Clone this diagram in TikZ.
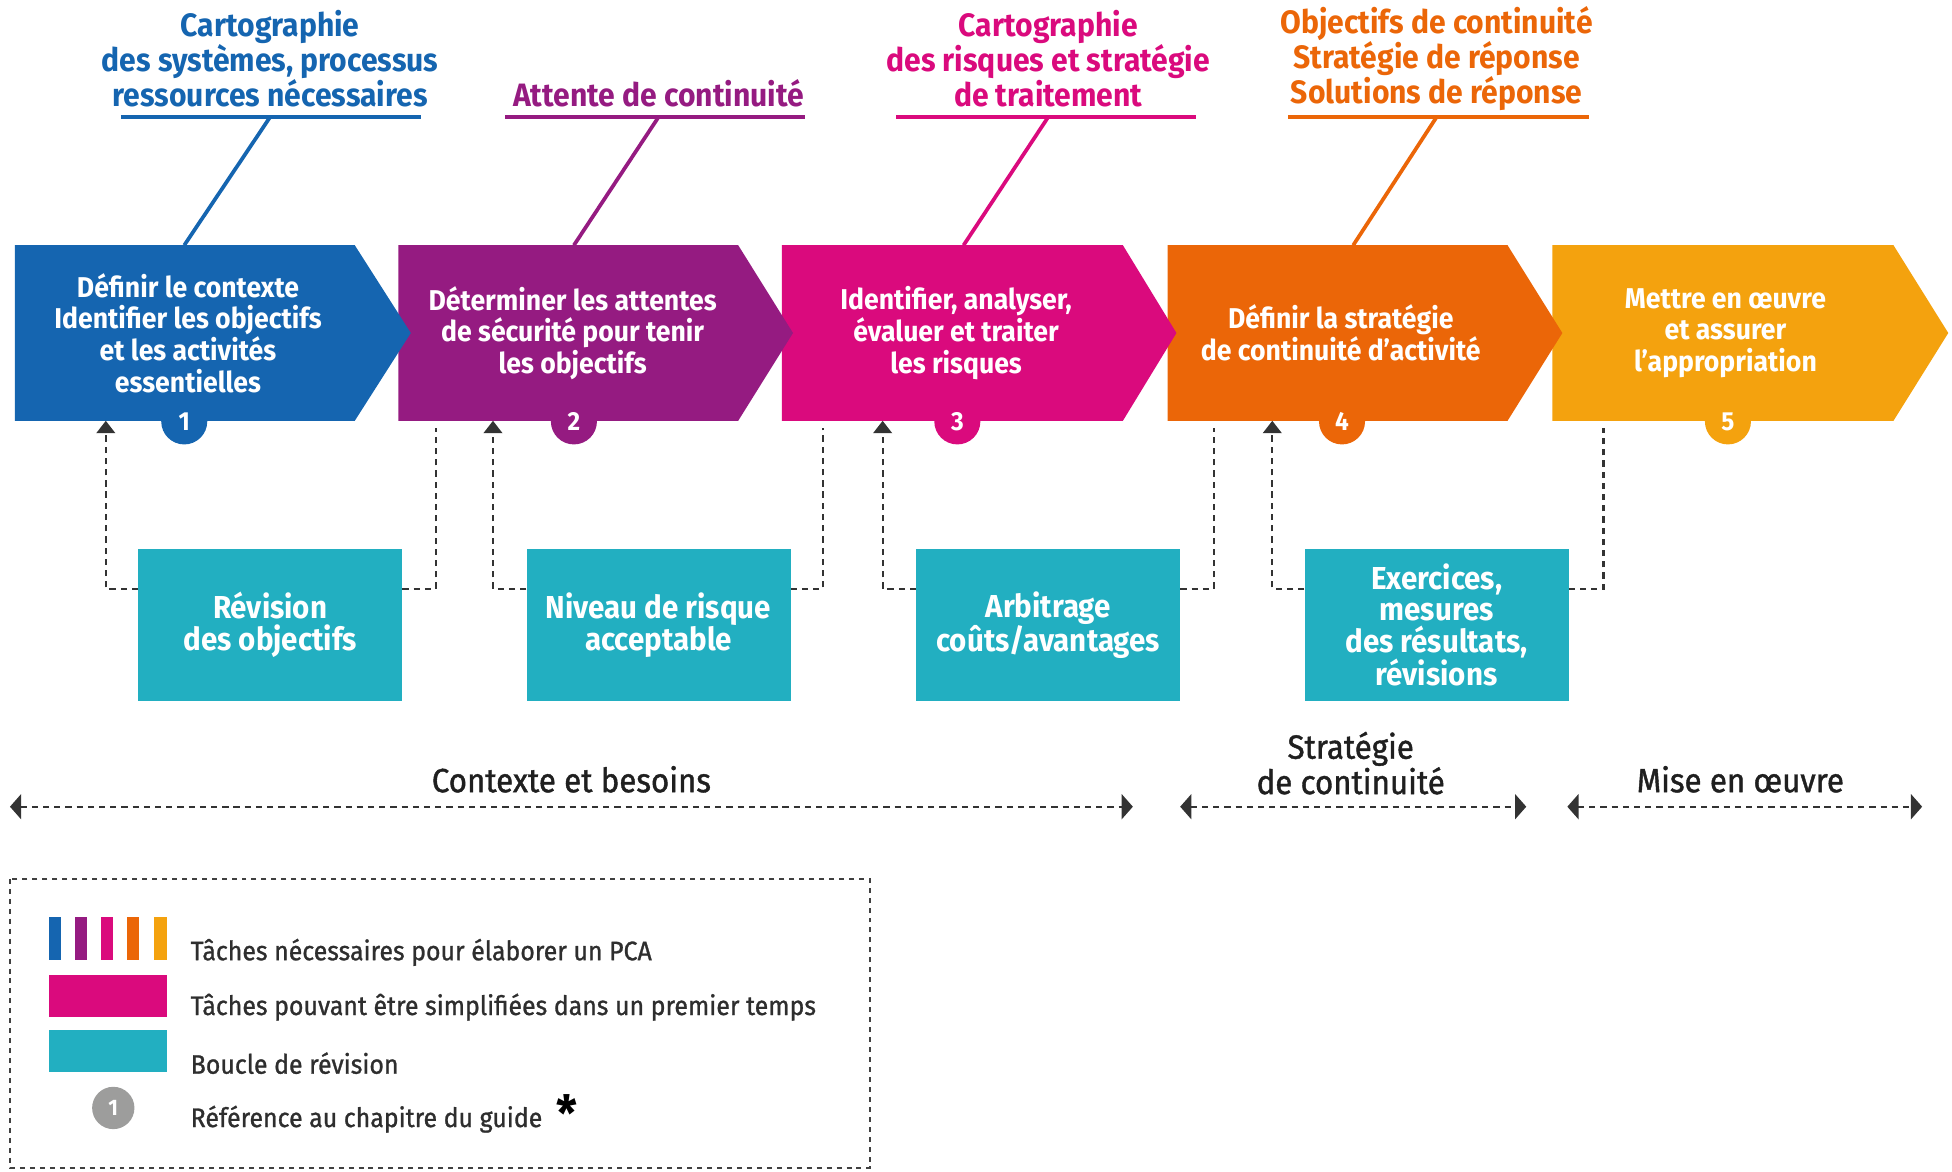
\documentclass[tikz,border=0pt]{standalone}
\usepackage{fontspec}
\setmainfont[FakeStretch=0.93]{Fira Sans}
\usetikzlibrary{arrows.meta}
\definecolor{cA}{HTML}{1565B0}
\definecolor{cB}{HTML}{951B81}
\definecolor{cC}{HTML}{DA0A7D}
\definecolor{cD}{HTML}{EB6608}
\definecolor{cE}{HTML}{F4A20E}
\definecolor{cT}{HTML}{22AFC1}
\definecolor{cG}{HTML}{9D9D9C}
\begin{document}
\begin{tikzpicture}[x=1pt,y=-1pt,
  toplbl/.style={font=\fontsize{26}{28}\selectfont\bfseries, align=center, inner sep=0},
  steptxt/.style={text=white, font=\fontsize{23}{25.5}\selectfont\bfseries, align=center, inner sep=0},
  revbox/.style={fill=cT, text=white, minimum width=212pt, minimum height=122pt, inner sep=0, align=center, font=\fontsize{25.5}{25.5}\selectfont\bfseries},
  badge/.style={circle, minimum size=37pt, inner sep=0, text=white, font=\fontsize{21}{21}\selectfont\bfseries},
  loopln/.style={draw=black!80, line width=1.8pt, dash pattern=on 5pt off 4pt},
  looparrow/.style={loopln, -{Triangle[length=10pt,width=15pt]}},
  span/.style={loopln, {Triangle[length=9pt,width=20pt]}-{Triangle[length=9pt,width=20pt]}},
  phase/.style={font=\fontsize{27}{27}\selectfont\addfontfeatures{FakeBold=1.2}, text=black!88, align=center, inner sep=0},
  legtxt/.style={font=\fontsize{21.5}{22}\selectfont\addfontfeatures{FakeBold=1}, text=black!82, anchor=west, inner sep=0},
  lead/.style={line width=3pt}]
\useasboundingbox (0,0) rectangle (1568,941);

% chevrons (drawn right to left so tips overlap the next one)
\fill[cE] (1247,197) -- (1521,197) -- (1565,267.5) -- (1521,338) -- (1247,338) -- cycle;
\fill[cD] (938,197) -- (1211,197) -- (1255,267.5) -- (1211,338) -- (938,338) -- cycle;
\fill[cC] (628,197) -- (902,197) -- (945,267.5) -- (902,338) -- (628,338) -- cycle;
\fill[cB] (320,197) -- (593,197) -- (637,267.5) -- (593,338) -- (320,338) -- cycle;
\fill[cA] (12,197) -- (285,197) -- (330,267.5) -- (285,338) -- (12,338) -- cycle;

\node[steptxt] (s1) at (151,267.5) {Définir le contexte\\Identifier les objectifs\\et les activités\\essentielles};
\node[steptxt] (s2) at (460,267.5) {Déterminer les attentes\\de sécurité pour tenir\\les objectifs};
\node[steptxt] (s3) at (768,267.5) {Identifier, analyser,\\évaluer et traiter\\les risques};
\node[steptxt] (s4) at (1077,267.5) {Définir la stratégie\\de continuité d’activité};
\node[steptxt] (s5) at (1386,267.5) {Mettre en œuvre\\et assurer\\l’appropriation};

\node[badge, fill=cA] (n1) at (148,338.5) {1};
\node[badge, fill=cB] (n2) at (461,338.5) {2};
\node[badge, fill=cC] (n3) at (769,338.5) {3};
\node[badge, fill=cD] (n4) at (1078,338.5) {4};
\node[badge, fill=cE] (n5) at (1388,338.5) {5};

% top labels
\node[toplbl, text=cA] (l1) at (217,47) {Cartographie\\des systèmes, processus\\ressources nécessaires};
\node[toplbl, text=cB] (l2) at (529,75) {Attente de continuité};
\node[toplbl, text=cC] (l3) at (842,47) {Cartographie\\des risques et stratégie\\de traitement};
\node[toplbl, text=cD] (l4) at (1154,47) {Objectifs de continuité\\Stratégie de réponse\\Solutions de réponse};

\coordinate (u1a) at (97,94);  \coordinate (u1b) at (338,94);  \coordinate (u1) at (217,94);  \coordinate (t1) at (148,197);
\coordinate (u2a) at (406,94); \coordinate (u2b) at (647,94);  \coordinate (u2) at (529,94);  \coordinate (t2) at (461,197);
\coordinate (u3a) at (720,94); \coordinate (u3b) at (961,94);  \coordinate (u3) at (842,94);  \coordinate (t3) at (774,197);
\coordinate (u4a) at (1035,94);\coordinate (u4b) at (1276,94); \coordinate (u4) at (1154,94); \coordinate (t4) at (1087,197);
\draw[lead, cA] (u1a) -- (u1b); \draw[lead, cA] (u1) -- (t1);
\draw[lead, cB] (u2a) -- (u2b); \draw[lead, cB] (u2) -- (t2);
\draw[lead, cC] (u3a) -- (u3b); \draw[lead, cC] (u3) -- (t3);
\draw[lead, cD] (u4a) -- (u4b); \draw[lead, cD] (u4) -- (t4);

% revision boxes
\node[revbox] (r1) at (217,502) {Révision\\des objectifs};
\node[revbox] (r2) at (529,502) {Niveau de risque\\acceptable};
\node[revbox] (r3) at (842,502) {Arbitrage\\coûts/avantages};
\node[revbox] (r4) at (1154,502) {Exercices,\\mesures\\des résultats,\\révisions};

\coordinate (a1) at (85,338);   \coordinate (b1) at (350,344);
\coordinate (a2) at (396,338);  \coordinate (b2) at (661,344);
\coordinate (a3) at (709,338);  \coordinate (b3) at (975,344);
\coordinate (a4) at (1022,338); \coordinate (b4) at (1288,344);
\draw[looparrow] ([yshift=29pt]r1.west) -| (a1);
\draw[loopln] ([yshift=29pt]r1.east) -| (b1);
\draw[looparrow] ([yshift=29pt]r2.west) -| (a2);
\draw[loopln] ([yshift=29pt]r2.east) -| (b2);
\draw[looparrow] ([yshift=29pt]r3.west) -| (a3);
\draw[loopln] ([yshift=29pt]r3.east) -| (b3);
\draw[looparrow] ([yshift=29pt]r4.west) -| (a4);
\draw[loopln] ([yshift=29pt]r4.east) -| (b4);

% phases
\node[phase] (p1) at (459,626) {Contexte et besoins};
\node[phase] (p2) at (1085,613) {Stratégie\\de continuité};
\node[phase] (p3) at (1398,626) {Mise en œuvre};
\coordinate (p1a) at (8,648);    \coordinate (p1b) at (910,648);
\coordinate (p2a) at (948,648);  \coordinate (p2b) at (1226,648);
\coordinate (p3a) at (1259,648); \coordinate (p3b) at (1544,648);
\draw[span] (p1a) -- (p1b);
\draw[span] (p2a) -- (p2b);
\draw[span] (p3a) -- (p3b);

% legend
\draw[draw=black!75, line width=1.5pt, dash pattern=on 4pt off 4pt] (8,706) rectangle (699,938);
\fill[cA] (39,737) rectangle (49,771);
\fill[cB] (60,737) rectangle (70,771);
\fill[cC] (81,737) rectangle (91,771);
\fill[cD] (102,737) rectangle (112,771);
\fill[cE] (124,737) rectangle (134,771);
\fill[cC] (39,783) rectangle (134,817);
\fill[cT] (39,827) rectangle (134,861);
\node[badge, fill=cG, minimum size=34pt, font=\fontsize{18}{18}\selectfont\bfseries] (g1) at (91,890) {1};
\node[legtxt] (t1l) at (153,765) {Tâches nécessaires pour élaborer un PCA};
\node[legtxt] (t2l) at (153,809) {Tâches pouvant être simplifiées dans un premier temps};
\node[legtxt] (t3l) at (153,854) {Boucle de révision};
\node[legtxt] (t4l) at (153,899) {Référence au chapitre du guide};
\node[inner sep=0, font=\fontsize{40}{40}\selectfont\bfseries] (ast) at (455,894) {*};
\end{tikzpicture}
\end{document}
